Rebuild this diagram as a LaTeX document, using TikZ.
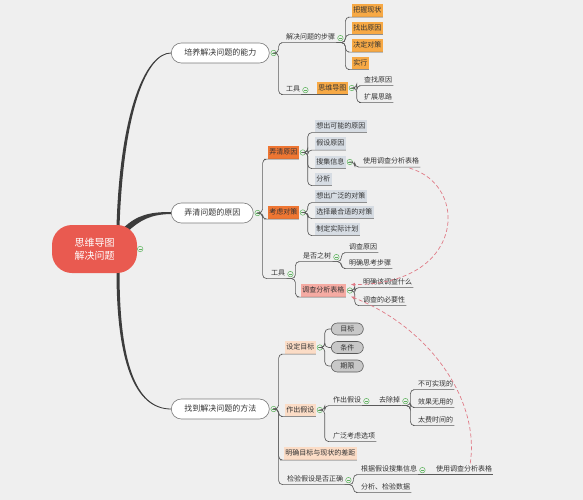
\documentclass[tikz,border=0pt]{standalone}
\usepackage{fontspec}
\setmainfont{Noto Sans CJK SC}
\usetikzlibrary{arrows.meta,calc,backgrounds}

\definecolor{bgc}{HTML}{EFEFEF}
\definecolor{txtc}{HTML}{333333}
\definecolor{rootc}{HTML}{E95A50}
\definecolor{bordc}{HTML}{7A7A7A}
\definecolor{linkc}{HTML}{5A5A5A}
\definecolor{trunkc}{HTML}{3C3C3C}
\definecolor{foldc}{HTML}{5DB35D}
\definecolor{orngA}{HTML}{F7A945}
\definecolor{orngB}{HTML}{EE7633}
\definecolor{grayb}{HTML}{D6DCE3}
\definecolor{pinkc}{HTML}{F5ABA3}
\definecolor{peach}{HTML}{FBDCC6}
\definecolor{pillf}{HTML}{C8C8C8}
\definecolor{pillb}{HTML}{5A5A5A}
\definecolor{dashc}{HTML}{E07A86}

\begin{document}
\begin{tikzpicture}[x=1pt, y=-1pt, every node/.style={font=\fontsize{7}{8}\selectfont, text=txtc},
  topic/.style={anchor=west, inner xsep=1pt, inner ysep=2pt, text height=5.6pt, text depth=1.2pt},
  box/.style={topic, inner xsep=1.2pt, inner ysep=3pt},
  main/.style={anchor=west, draw=bordc, line width=0.6pt, fill=white, rounded corners=10pt, minimum height=20pt, inner xsep=13pt, font=\fontsize{8}{9}\selectfont, text height=6.4pt, text depth=1.4pt},
  rootbox/.style={fill=rootc, text=white, rounded corners=20pt, minimum width=85pt, minimum height=48pt, align=center, font=\fontsize{10}{13.5}\selectfont},
  pill/.style={anchor=west, draw=pillb, line width=0.6pt, fill=pillf, rounded corners=6pt, minimum width=32pt, minimum height=12pt, inner sep=0pt},
  fold/.style={circle, draw=foldc, fill=bgc, line width=0.5pt, minimum size=5.5pt, inner sep=0pt, path picture={\draw[foldc, line width=0.5pt] ([xshift=1.2pt]path picture bounding box.west) -- ([xshift=-1.2pt]path picture bounding box.east);}},
  link/.style={draw=linkc, line width=0.65pt, rounded corners=4pt},
  jump/.style={draw=dashc, line width=0.7pt, dash pattern=on 4pt off 2.5pt, -{Latex[length=4pt,width=3.5pt]}}]
	\useasboundingbox (0,0) rectangle (583,500);
	% centre
	\node[rootbox] (root) at (94.5,249) {思维导图\\解决问题};
	\node[fold] (rootf) at ($(root.east)+(3,0)$) {};
	\node[main] (b1) at (171,53) {培养解决问题的能力};
	\node[main] (b2) at (171,213) {弄清问题的原因};
	\node[main] (b3) at (171,409) {找到解决问题的方法};
	\node[fold] (b1f) at ($(b1.east)+(4,0)$) {};
	\node[fold] (b2f) at ($(b2.east)+(4,0)$) {};
	\node[fold] (b3f) at ($(b3.east)+(4,0)$) {};
	% branch 1
	\node[topic] (s1) at (285,37) {解决问题的步骤};
	\node[fold] (s1f) at ($(s1.south east)+(4,-4.5)$) {};
	\node[box, fill=orngA] (a1) at (352,10.5) {把握现状};
	\node[box, fill=orngA] (a2) at (352,28) {找出原因};
	\node[box, fill=orngA] (a3) at (352,45.5) {决定对策};
	\node[box, fill=orngA] (a4) at (352,63) {实行};
	\node[topic] (t1) at (285,89) {工具};
	\node[fold] (t1f) at ($(t1.south east)+(4,-4.5)$) {};
	\node[box, fill=orngA] (mm) at (317,88) {思维导图};
	\node[fold] (mmf) at ($(mm.east)+(4,0)$) {};
	\node[topic] (q1) at (363,80) {查找原因};
	\node[topic] (q2) at (363,97) {扩展思路};
	% branch 2
	\node[box, fill=orngB] (c1) at (268,152.5) {弄清原因};
	\node[fold] (c1f) at ($(c1.east)+(4,0)$) {};
	\node[box, fill=grayb] (g1) at (315,126) {想出可能的原因};
	\node[box, fill=grayb] (g2) at (315,143.5) {假设原因};
	\node[box, fill=grayb] (g3) at (315,162) {搜集信息};
	\node[fold] (g3f) at ($(g3.east)+(4,0)$) {};
	\node[topic] (u1) at (362,161.5) {使用调查分析表格};
	\node[box, fill=grayb] (g4) at (315,179) {分析};
	\node[box, fill=orngB] (c2) at (268,212.5) {考虑对策};
	\node[fold] (c2f) at ($(c2.east)+(4,0)$) {};
	\node[box, fill=grayb] (h1) at (315,196) {想出广泛的对策};
	\node[box, fill=grayb] (h2) at (315,212) {选择最合适的对策};
	\node[box, fill=grayb] (h3) at (315,229) {制定实际计划};
	\node[topic] (c3) at (270,273) {工具};
	\node[fold] (c3f) at ($(c3.south east)+(4,-4.5)$) {};
	\node[topic] (w1) at (302,256) {是否之树};
	\node[fold] (w1f) at ($(w1.south east)+(4,-4.5)$) {};
	\node[topic] (r1) at (348,247) {调查原因};
	\node[topic] (r2) at (348,263) {明确思考步骤};
	\node[box, fill=pinkc] (sheet) at (301,290.5) {调查分析表格};
	\node[fold] (sheetf) at ($(sheet.east)+(4,0)$) {};
	\node[topic] (m1) at (362,282) {明确该调查什么};
	\node[topic] (m2) at (362,300) {调查的必要性};
	% branch 3
	\node[box, fill=peach] (d1) at (285,347.5) {设定目标};
	\node[fold] (d1f) at ($(d1.east)+(4,0)$) {};
	\node[pill] (p1) at (331,329) {目标};
	\node[pill] (p2) at (331,347.5) {条件};
	\node[pill] (p3) at (331,366) {期限};
	\node[box, fill=peach] (d2) at (285,410) {作出假设};
	\node[fold] (d2f) at ($(d2.east)+(4,0)$) {};
	\node[topic] (e1) at (332,400) {作出假设};
	\node[fold] (e1f) at ($(e1.south east)+(4,-4.5)$) {};
	\node[topic] (e2) at (378,400) {去除掉};
	\node[fold] (e2f) at ($(e2.south east)+(4,-4.5)$) {};
	\node[topic] (k1) at (417,384) {不可实现的};
	\node[topic] (k2) at (417,402) {效果无用的};
	\node[topic] (k3) at (417,420) {太费时间的};
	\node[topic] (e3) at (332,436) {广泛考虑选项};
	\node[box, fill=peach] (d3) at (284,453.5) {明确目标与现状的差距};
	\node[topic] (d4) at (286,479) {检验假设是否正确};
	\node[fold] (d4f) at ($(d4.south east)+(4,-4.5)$) {};
	\node[topic] (v1) at (360,469) {根据假设搜集信息};
	\node[fold] (v1f) at ($(v1.south east)+(4,-4.5)$) {};
	\node[topic] (u3) at (435,469) {使用调查分析表格};
	\node[topic] (v2) at (360,487) {分析、检验数据};
	% links
	\foreach \c in {s1,t1} \draw[link] (b1f.east) -- ++(2,0) |- (\c.south west) -- (\c.south east);
	\foreach \c in {a1,a2,a3,a4} \draw[link] (s1.south east) -- ++(9,0) |- (\c.south west) -- (\c.south east);
	\draw[link] (t1.south east) -- (mm.south west) -- (mm.south east);
	\foreach \c in {q1,q2} \draw[link] (mmf.east) -- ++(2,0) |- (\c.south west) -- (\c.south east);
	\foreach \c in {c1,c2,c3} \draw[link] (b2f.east) -- ++(2,0) |- (\c.south west) -- (\c.south east);
	\foreach \c in {g1,g2,g3,g4} \draw[link] (c1f.east) -- ++(2,0) |- (\c.south west) -- (\c.south east);
	\draw[link] (g3f.east) -- ++(2,0) |- (u1.south west) -- (u1.south east);
	\foreach \c in {h1,h2,h3} \draw[link] (c2f.east) -- ++(2,0) |- (\c.south west) -- (\c.south east);
	\foreach \c in {w1,sheet} \draw[link] (c3.south east) -- ++(9,0) |- (\c.south west) -- (\c.south east);
	\foreach \c in {r1,r2} \draw[link] (w1.south east) -- ++(9,0) |- (\c.south west) -- (\c.south east);
	\foreach \c in {m1,m2} \draw[link] (sheetf.east) -- ++(2,0) |- (\c.south west) -- (\c.south east);
	\foreach \c in {d1,d2,d3,d4} \draw[link] (b3f.east) -- ++(2,0) |- (\c.south west) -- (\c.south east);
	\foreach \c in {p1,p2,p3} \draw[link] (d1f.east) -- ++(2,0) |- (\c.west);
	\foreach \c in {e1,e3} \draw[link] (d2f.east) -- ++(2,0) |- (\c.south west) -- (\c.south east);
	\draw[link] (e1.south east) -- (e2.south west) -- (e2.south east);
	\foreach \c in {k1,k2,k3} \draw[link] (e2.south east) -- ++(9,0) |- (\c.south west) -- (\c.south east);
	\foreach \c in {v1,v2} \draw[link] (d4.south east) -- ++(9,0) |- (\c.south west) -- (\c.south east);
	\draw[link] (v1.south east) -- (u3.south west) -- (u3.south east);
	% cross references
	\draw[jump] ($(u1.south east)+(-11,1)$) .. controls (470,185) and (465,285) .. ($(sheet.east)+(5,-6)$);
	\draw[jump] ($(u3.north)+(6,0)$) .. controls (480,400) and (430,328) .. ($(sheet.east)+(5,6)$);
	\begin{scope}[on background layer]
	\fill[bgc] (0,0) rectangle (583,500);
	\fill[trunkc] ($(root.north)+(22,2)$) .. controls (120,110) and (146,52.5) .. ($(b1.west)+(0,-0.4)$) -- ($(b1.west)+(0,0.4)$) .. controls (147,53.5) and (123.5,110) .. ($(root.north)+(25,2)$) -- cycle;
	\fill[trunkc] ($(root.north)+(29,3)$) .. controls (137,215) and (150,211.9) .. ($(b2.west)+(0,-1)$) -- ($(b2.west)+(0,1)$) .. controls (151,214.3) and (140,220) .. ($(root.north)+(33,7)$) -- cycle;
	\fill[trunkc] ($(root.south)+(22,-2)$) .. controls (116.5,360) and (134,409.4) .. ($(b3.west)+(0,0.4)$) -- ($(b3.west)+(0,-0.4)$) .. controls (135,408.5) and (119.5,360) .. ($(root.south)+(25,-2)$) -- cycle;
	\end{scope}
\end{tikzpicture}
\end{document}
